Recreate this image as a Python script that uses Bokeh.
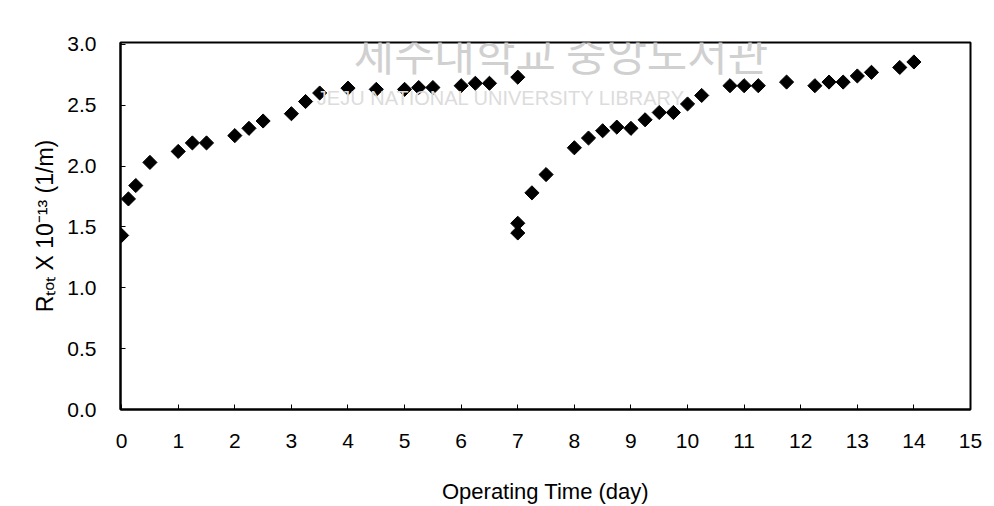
import math
from bokeh.plotting import figure
from bokeh.models import Range1d, FixedTicker, Label
from bokeh.embed import file_html
from bokeh.resources import INLINE

# Run 1 (before backwash)
day_1 = [0.0, 0.12, 0.25, 0.5, 1.0, 1.25, 1.5, 2.0, 2.25, 2.5, 3.0, 3.25, 3.5,
         4.0, 4.5, 5.0, 5.25, 5.5, 6.0, 6.25, 6.5, 7.0]
rtot_1 = [1.43, 1.73, 1.84, 2.03, 2.12, 2.19, 2.19, 2.25, 2.31, 2.37, 2.43, 2.53, 2.60,
          2.64, 2.63, 2.63, 2.645, 2.645, 2.66, 2.68, 2.68, 2.73]

# Run 2 (after backwash)
day_2 = [7.0, 7.0, 7.25, 7.5, 8.0, 8.25, 8.5, 8.75, 9.0, 9.25, 9.5, 9.75, 10.0, 10.25,
         10.75, 11.0, 11.25, 11.75, 12.25, 12.5, 12.75, 13.0, 13.25, 13.75, 14.0]
rtot_2 = [1.45, 1.53, 1.78, 1.93, 2.15, 2.23, 2.29, 2.32, 2.31, 2.38, 2.44, 2.44, 2.51, 2.58,
          2.66, 2.66, 2.66, 2.69, 2.66, 2.69, 2.69, 2.74, 2.77, 2.81, 2.855]

x_ticks = list(range(0, 16))
y_ticks = [0.0, 0.5, 1.0, 1.5, 2.0, 2.5, 3.0]

FONT = "Liberation Sans"

p = figure(width=986, height=506, output_backend="svg", toolbar_location=None,
           x_range=Range1d(-0.02, 15.0), y_range=Range1d(0, 3.015),
           min_border_left=120, min_border_right=16, min_border_top=42, min_border_bottom=96)

p.grid.visible = False
p.outline_line_color = "black"
p.outline_line_width = 2
p.background_fill_color = "white"
p.border_fill_color = "white"

for ax in (p.xaxis[0], p.yaxis[0]):
    ax.axis_line_color = "black"
    ax.axis_line_width = 2
    ax.major_tick_in = 5
    ax.major_tick_out = 0
    ax.major_tick_line_color = "black"
    ax.minor_tick_line_color = None
    ax.major_label_text_font = FONT
    ax.major_label_text_font_size = "21px"
    ax.major_label_text_color = "black"
    ax.axis_label_text_font = FONT
    ax.axis_label_text_font_size = "22px"
    ax.axis_label_text_font_style = "normal"
    ax.axis_label_text_color = "black"

p.xaxis.ticker = FixedTicker(ticks=x_ticks)
p.yaxis.ticker = FixedTicker(ticks=y_ticks)
p.yaxis.major_label_overrides = {v: f"{v:.1f}" for v in y_ticks}
p.xaxis.major_label_standoff = 24
p.yaxis.major_label_standoff = 24
p.xaxis.axis_label = "Operating Time (day)"
p.xaxis.axis_label_standoff = 28
p.yaxis.axis_label = "R\u209c\u2092\u209c X 10\u207b\u00b9\u00b3 (1/m)"
p.yaxis.axis_label_text_font_size = "23px"
p.yaxis.axis_label_standoff = 6

# watermark
p.add_layout(Label(x=4.1, y=2.67, text="제주대학교 중앙도서관", text_font="Noto Sans CJK KR",
                   text_font_size="44px", text_color="#d0d0d0"))
p.add_layout(Label(x=3.45, y=2.47, text="JEJU NATIONAL UNIVERSITY  LIBRARY", text_font=FONT,
                   text_font_size="20px", text_color="#dcdcdc"))

p.scatter(day_1, rtot_1, marker="square", angle=math.pi / 4, size=10,
          fill_color="black", line_color="black")
p.scatter(day_2, rtot_2, marker="square", angle=math.pi / 4, size=10,
          fill_color="black", line_color="black")

open("out.html", "w").write(file_html(p, INLINE))
